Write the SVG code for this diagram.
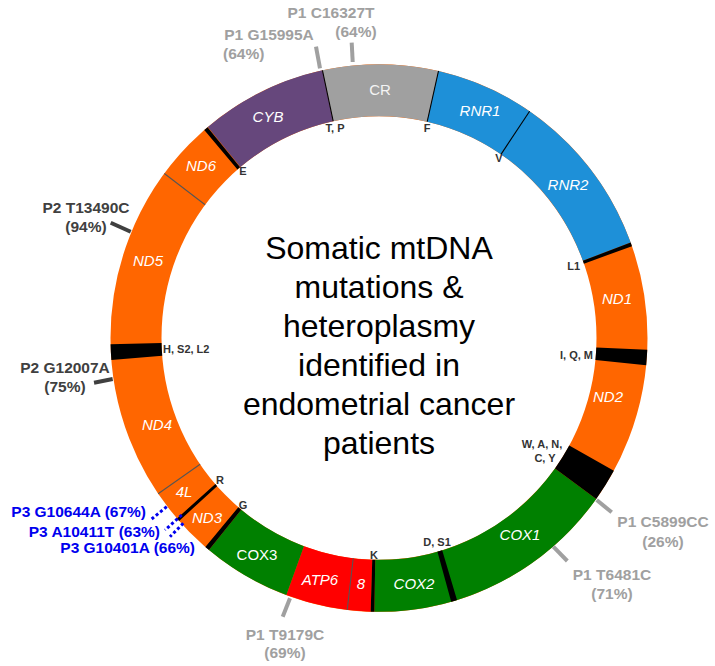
<svg xmlns="http://www.w3.org/2000/svg" width="715" height="666" viewBox="0 0 715 666">
<style>
.seg{fill:none;stroke-width:51}
.o{stroke:#ff6600}.b{stroke:#1e90d8}.g{stroke:#008000}.r{stroke:#ff0000}.k{stroke:#000}.gr{stroke:#a0a0a0}.p{stroke:#66477c}.ln{stroke:#555}
.gene{font-family:"Liberation Sans",Arial,sans-serif;font-size:15px;fill:#fff;text-anchor:middle;font-style:italic}
.tr{font-family:"Liberation Sans",Arial,sans-serif;font-size:11px;font-weight:bold;fill:#333;text-anchor:middle}
.mut{font-family:"Liberation Sans",Arial,sans-serif;font-size:15.5px;font-weight:bold;text-anchor:middle}
.tick{stroke-width:4;fill:none}
.title{font-family:"Liberation Sans",Arial,sans-serif;font-size:32px;fill:#000;text-anchor:middle}
</style>
<g id="ring" transform="translate(379,338) scale(1,1.02) rotate(-90)">
<circle class="seg o" r="243" pathLength="360"/>
<circle class="seg gr" r="243" pathLength="360" stroke-dasharray="12.2 400" stroke-dashoffset="-347.8"/>
<circle class="seg gr" r="243" pathLength="360" stroke-dasharray="12.8 400" stroke-dashoffset="0"/>
<circle class="seg b" r="243" pathLength="360" stroke-dasharray="56.8 400" stroke-dashoffset="-12.8"/>
<circle class="seg g" r="243" pathLength="360" stroke-dasharray="55 400" stroke-dashoffset="-126"/>
<circle class="seg r" r="243" pathLength="360" stroke-dasharray="18.4 400" stroke-dashoffset="-181.8"/>
<circle class="seg g" r="243" pathLength="360" stroke-dasharray="19.1 400" stroke-dashoffset="-200.2"/>
<circle class="seg p" r="243" pathLength="360" stroke-dasharray="27.4 400" stroke-dashoffset="-320.4"/>
<circle class="seg k" r="243" pathLength="360" stroke-dasharray="0.8 400" stroke-dashoffset="-69.6"/>
<circle class="seg k" r="243" pathLength="360" stroke-dasharray="3.2 400" stroke-dashoffset="-92.5"/>
<circle class="seg k" r="243" pathLength="360" stroke-dasharray="7 400" stroke-dashoffset="-119"/>
<circle class="seg k" r="243" pathLength="360" stroke-dasharray="1.3 400" stroke-dashoffset="-163.1"/>
<circle class="seg k" r="243" pathLength="360" stroke-dasharray="0.8 400" stroke-dashoffset="-181"/>
<circle class="seg k" r="243" pathLength="360" stroke-dasharray="1 400" stroke-dashoffset="-219.3"/>
<circle class="seg k" r="243" pathLength="360" stroke-dasharray="0.7 400" stroke-dashoffset="-228.1"/>
<circle class="seg k" r="243" pathLength="360" stroke-dasharray="3.3 400" stroke-dashoffset="-265.4"/>
<circle class="seg k" r="243" pathLength="360" stroke-dasharray="0.9 400" stroke-dashoffset="-319.4"/>
<circle class="seg k" r="243" pathLength="360" stroke-dasharray="0.25 400" stroke-dashoffset="-34"/>
<circle class="seg k" r="243" pathLength="360" stroke-dasharray="0.25 400" stroke-dashoffset="-347.7"/>
<circle class="seg k" r="243" pathLength="360" stroke-dasharray="0.25 400" stroke-dashoffset="-12.7"/>
<circle class="seg ln" r="243" pathLength="360" stroke-dasharray="0.25 400" stroke-dashoffset="-186.7"/>
<circle class="seg ln" r="243" pathLength="360" stroke-dasharray="0.25 400" stroke-dashoffset="-235.2"/>
<circle class="seg ln" r="243" pathLength="360" stroke-dasharray="0.25 400" stroke-dashoffset="-306.8"/>
</g>
<g id="gene-labels">
<text class="gene" x="380" y="95" style="font-style:normal;fill:#f4f4f4">CR</text>
<text class="gene" x="268" y="122">CYB</text>
<text class="gene" x="480" y="116">RNR1</text>
<text class="gene" x="568" y="190">RNR2</text>
<text class="gene" x="617" y="304">ND1</text>
<text class="gene" x="608" y="402">ND2</text>
<text class="gene" x="520" y="540">COX1</text>
<text class="gene" x="414" y="589">COX2</text>
<text class="gene" x="361" y="589">8</text>
<text class="gene" x="320" y="585">ATP6</text>
<text class="gene" x="257" y="560" style="font-style:normal">COX3</text>
<text class="gene" x="207" y="523">ND3</text>
<text class="gene" x="184" y="497">4L</text>
<text class="gene" x="157" y="430">ND4</text>
<text class="gene" x="148" y="266">ND5</text>
<text class="gene" x="201" y="171">ND6</text>
</g>
<g id="trna-labels">
<text class="tr" x="335" y="132">T, P</text>
<text class="tr" x="427" y="132">F</text>
<text class="tr" x="499" y="162">V</text>
<text class="tr" x="243" y="175">E</text>
<text class="tr" x="580" y="270" style="text-anchor:end">L1</text>
<text class="tr" x="593" y="359" style="text-anchor:end">I, Q, M</text>
<text class="tr" x="542" y="448">W, A, N,</text>
<text class="tr" x="545" y="462">C, Y</text>
<text class="tr" x="163" y="353" style="text-anchor:start">H, S2, L2</text>
<text class="tr" x="437" y="546">D, S1</text>
<text class="tr" x="374" y="559">K</text>
<text class="tr" x="243" y="509">G</text>
<text class="tr" x="220" y="484">R</text>
</g>
<g id="connectors">
<line class="tick" stroke="#a0a0a0" x1="352.7" y1="62" x2="351.7" y2="42.7"/>
<line class="tick" stroke="#a0a0a0" x1="320" y1="68.3" x2="316" y2="46.7"/>
<line class="tick" stroke="#404040" x1="130.7" y1="231.7" x2="110.7" y2="222.7"/>
<line class="tick" stroke="#404040" x1="112.7" y1="379" x2="94" y2="382.7"/>
<line class="tick" stroke="#a0a0a0" x1="596.7" y1="500" x2="611.7" y2="512.3"/>
<line class="tick" stroke="#a0a0a0" x1="553.3" y1="546.7" x2="567.3" y2="561"/>
<line class="tick" stroke="#a0a0a0" x1="290" y1="598.3" x2="282.7" y2="616.7"/>
<g stroke="#0000ee" stroke-width="3" stroke-dasharray="3 2.5" fill="none">
<line x1="166.7" y1="506.7" x2="151.7" y2="519"/>
<line x1="181.7" y1="515" x2="165" y2="530"/>
<line x1="183.3" y1="523.3" x2="170" y2="536.7"/>
</g>
</g>
<g id="mutation-labels">
<text class="mut" fill="#a0a0a0" x="331" y="18">P1 C16327T</text>
<text class="mut" fill="#a0a0a0" x="356" y="37">(64%)</text>
<text class="mut" fill="#a0a0a0" x="269" y="40">P1 G15995A</text>
<text class="mut" fill="#a0a0a0" x="223" y="59" style="text-anchor:start">(64%)</text>
<text class="mut" fill="#404040" x="86" y="213">P2 T13490C</text>
<text class="mut" fill="#404040" x="86" y="232">(94%)</text>
<text class="mut" fill="#404040" x="65" y="373">P2 G12007A</text>
<text class="mut" fill="#404040" x="65" y="392">(75%)</text>
<text class="mut" fill="#a0a0a0" x="663" y="527">P1 C5899CC</text>
<text class="mut" fill="#a0a0a0" x="663" y="547">(26%)</text>
<text class="mut" fill="#a0a0a0" x="612" y="580">P1 T6481C</text>
<text class="mut" fill="#a0a0a0" x="612" y="599">(71%)</text>
<text class="mut" fill="#a0a0a0" x="285" y="640">P1 T9179C</text>
<text class="mut" fill="#a0a0a0" x="285" y="658">(69%)</text>
<text class="mut" fill="#0000ee" x="146" y="517" style="text-anchor:end">P3 G10644A (67%)</text>
<text class="mut" fill="#0000ee" x="160" y="537" style="text-anchor:end">P3 A10411T (63%)</text>
<text class="mut" fill="#0000ee" x="195" y="553" style="text-anchor:end">P3 G10401A (66%)</text>
</g>
<g id="title">
<text class="title" x="379" y="259">Somatic mtDNA</text>
<text class="title" x="379" y="298">mutations &amp;</text>
<text class="title" x="379" y="337">heteroplasmy</text>
<text class="title" x="379" y="376">identified in</text>
<text class="title" x="379" y="415">endometrial cancer</text>
<text class="title" x="379" y="454">patients</text>
</g>
</svg>
